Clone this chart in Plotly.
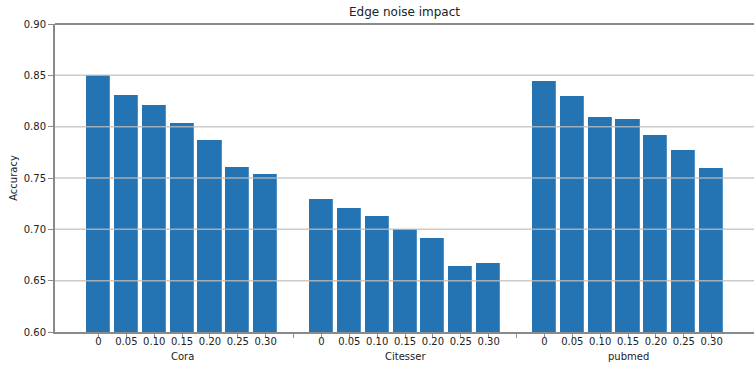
import plotly.graph_objects as go

groups = ["Cora", "Citesser", "pubmed"]
noise_levels = ["0", "0.05", "0.10", "0.15", "0.20", "0.25", "0.30"]
cora = [0.850, 0.831, 0.821, 0.804, 0.787, 0.761, 0.754]
citesser = [0.730, 0.721, 0.713, 0.700, 0.692, 0.664, 0.667]
pubmed = [0.844, 0.830, 0.809, 0.807, 0.792, 0.777, 0.760]
y_ticks = [0.60, 0.65, 0.70, 0.75, 0.80, 0.85, 0.90]

series = [cora, citesser, pubmed]
slot = len(noise_levels) + 1

xs, ys = [], []
tickvals, ticktext = [], []
for g, vals in enumerate(series):
    for i, v in enumerate(vals):
        xs.append(g * slot + i)
        ys.append(v)
        tickvals.append(g * slot + i)
        ticktext.append(noise_levels[i])
    if g < len(series) - 1:
        tickvals.append(g * slot + len(noise_levels))
        ticktext.append("")

fig = go.Figure()
fig.add_trace(go.Bar(
    x=xs, y=ys, width=0.9,
    marker=dict(color="#2474b4", line=dict(color="white", width=1.2)),
    showlegend=False,
))

axis_col = "#8a8a8a"
font_col = "#222222"

shapes = []
for yv in y_ticks[1:-1]:
    shapes.append(dict(type="line", xref="paper", yref="y", x0=0, x1=1, y0=yv, y1=yv,
                       line=dict(color="rgba(190,190,190,0.8)", width=1.5), layer="above"))
# top spine
shapes.append(dict(type="line", xref="paper", yref="paper", x0=0, x1=1, y0=1, y1=1,
                   line=dict(color=axis_col, width=2), layer="above"))

annotations = []
for g, name in enumerate(groups):
    annotations.append(dict(x=g * slot + 3, y=0, xref="x", yref="paper", yshift=-24,
                            text=name, showarrow=False, yanchor="middle",
                            font=dict(size=10, color=font_col, family="DejaVu Sans")))

fig.update_layout(
    width=754, height=369,
    margin=dict(l=55, r=0, t=24, b=37, autoexpand=False),
    plot_bgcolor="white", paper_bgcolor="white",
    font=dict(family="DejaVu Sans", size=10, color=font_col),
    title=dict(text="Edge noise impact", xref="paper", x=0.5, xanchor="center",
               y=1 - 12 / 369, yanchor="middle",
               font=dict(size=12, color=font_col)),
    shapes=shapes,
    annotations=annotations,
    bargap=0,
)
fig.update_xaxes(
    range=[-1.56, 23.52], tickvals=tickvals, ticktext=ticktext,
    showgrid=False, zeroline=False, automargin=False,
    showline=True, linecolor=axis_col, linewidth=2,
    ticks="outside", ticklen=4, tickwidth=1, tickcolor=axis_col,
    tickfont=dict(size=10, color=font_col), ticklabelstandoff=-5,
)
fig.update_yaxes(
    range=[0.60, 0.90], tickvals=y_ticks, ticktext=[f"{v:.2f}" for v in y_ticks],
    showgrid=False, zeroline=False, automargin=False,
    showline=True, linecolor=axis_col, linewidth=2,
    ticks="outside", ticklen=5, tickwidth=1, tickcolor=axis_col,
    tickfont=dict(size=10, color=font_col),
    title=dict(text="Accuracy", font=dict(size=10, color=font_col), standoff=4),
)

fig.write_html("out.html",
               config={"displayModeBar": False},
               post_script="document.body.style.margin='0';document.body.style.overflow='hidden';")
